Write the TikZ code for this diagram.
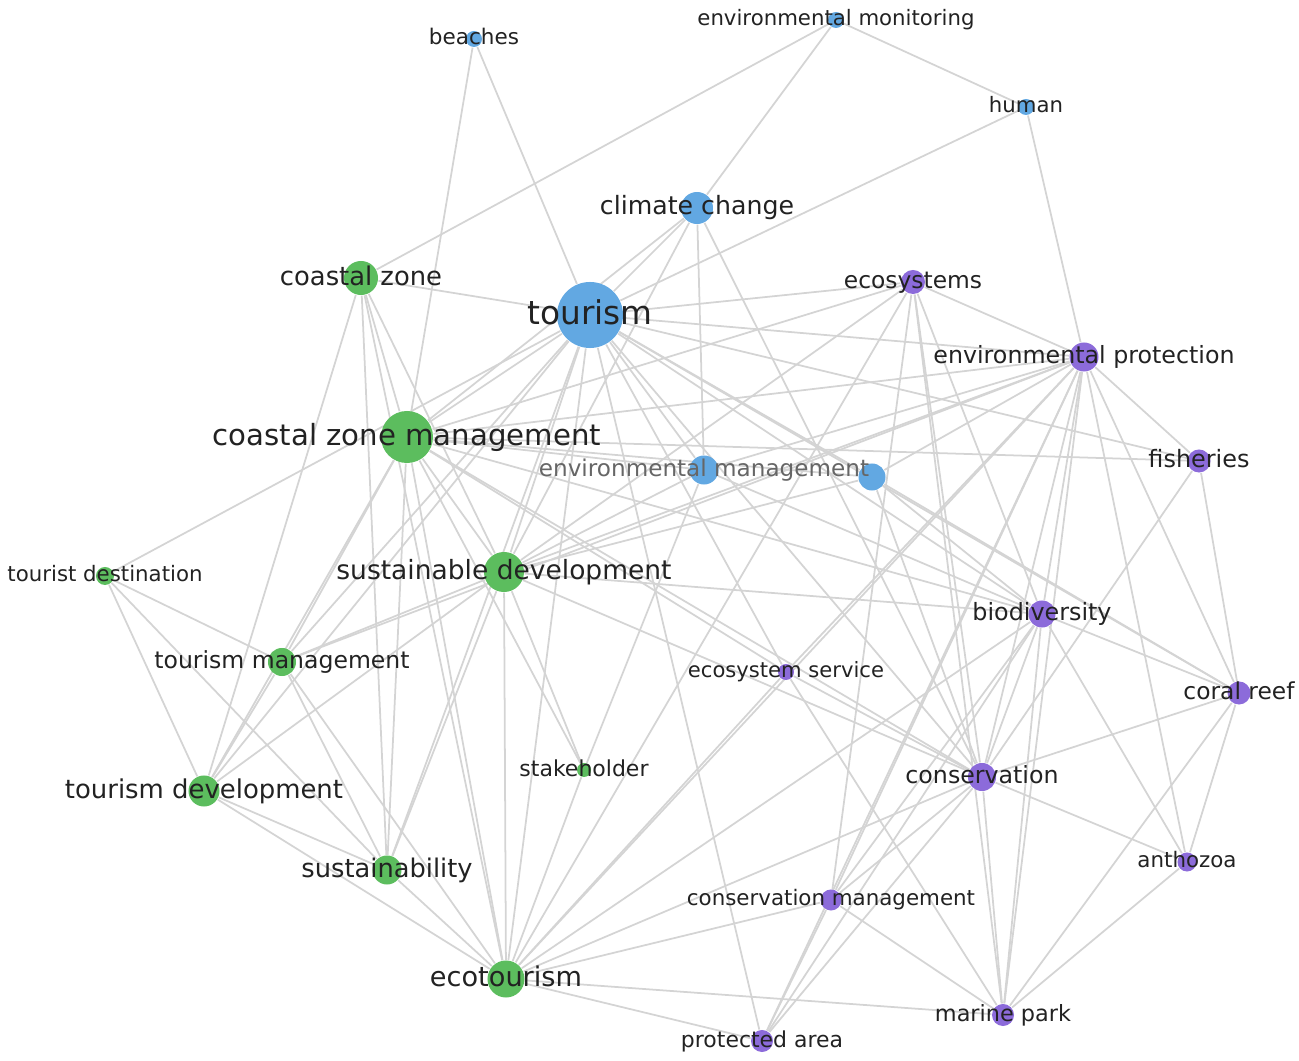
\documentclass[tikz,border=0pt]{standalone}
\usepackage{fontspec}
\setmainfont{DejaVu Sans}
\usepackage{graphicx}
\pgfdeclarelayer{bg}
\pgfsetlayers{bg,main}
\definecolor{nblue}{HTML}{62A8E2}
\definecolor{ngreen}{HTML}{5CBD5E}
\definecolor{npurple}{HTML}{8C6BDA}
\definecolor{edgec}{HTML}{D4D4D4}
\definecolor{txt}{HTML}{222222}
\definecolor{txtgray}{HTML}{666666}
\tikzset{
  dotb/.style={circle, inner sep=0pt, fill=nblue, minimum size=#1},
  dotg/.style={circle, inner sep=0pt, fill=ngreen, minimum size=#1},
  dotp/.style={circle, inner sep=0pt, fill=npurple, minimum size=#1},
  lbl/.style={inner sep=0pt, text=txt, anchor=center},
  link/.style={draw=edgec, line width=0.5pt},
}
\newcommand{\lab}[2]{\resizebox{#1}{!}{\vphantom{lg}#2}}
\begin{document}
\begin{tikzpicture}[x=0.01cm,y=-0.01cm]
\useasboundingbox (0,0) rectangle (1299,1061);
% nodes (dots)
\node[dotb=0.16cm] (bea) at (474,39) {};
\node[dotb=0.16cm] (emon) at (836,20) {};
\node[dotb=0.16cm] (hum) at (1026,107) {};
\node[dotb=0.32cm] (cc) at (697,208) {};
\node[dotg=0.34cm] (cz) at (361,278) {};
\node[dotb=0.66cm] (tou) at (590,315) {};
\node[dotp=0.24cm] (eco) at (913,282) {};
\node[dotp=0.29cm] (ep) at (1084,357) {};
\node[dotg=0.52cm] (czm) at (407,437) {};
\node[dotb=0.29cm] (em) at (704,470) {};
\node[dotb=0.27cm] (env) at (872,477) {};
\node[dotp=0.23cm] (fish) at (1199,461) {};
\node[dotg=0.18cm] (td) at (105,576) {};
\node[dotg=0.40cm] (sd) at (504,572) {};
\node[dotp=0.27cm] (bio) at (1042,614) {};
\node[dotg=0.28cm] (tm) at (282,662) {};
\node[dotp=0.16cm] (es) at (786,672) {};
\node[dotp=0.23cm] (cr) at (1239,693) {};
\node[dotg=0.14cm] (stk) at (584,770) {};
\node[dotp=0.28cm] (con) at (982,777) {};
\node[dotg=0.31cm] (tdev) at (204,791) {};
\node[dotp=0.19cm] (ant) at (1187,862) {};
\node[dotg=0.29cm] (sus) at (387,870) {};
\node[dotp=0.21cm] (cm) at (831,900) {};
\node[dotg=0.37cm] (eto) at (506,979) {};
\node[dotp=0.22cm] (mp) at (1003,1015) {};
\node[dotp=0.22cm] (pa) at (762,1041) {};
% labels
\node[lbl] (bea-t) at (bea) {\lab{0.90cm}{beaches}};
\node[lbl] (emon-t) at (emon) {\lab{2.77cm}{environmental monitoring}};
\node[lbl] (hum-t) at (hum) {\lab{0.74cm}{human}};
\node[lbl] (cc-t) at (cc) {\lab{1.94cm}{climate change}};
\node[lbl] (cz-t) at (cz) {\lab{1.62cm}{coastal zone}};
\node[lbl] (tou-t) at (tou) {\lab{1.25cm}{tourism}};
\node[lbl] (eco-t) at (eco) {\lab{1.38cm}{ecosystems}};
\node[lbl] (ep-t) at (ep) {\lab{3.01cm}{environmental protection}};
\node[lbl] (czm-t) at (czm) {\lab{3.88cm}{coastal zone management}};
\node[lbl, text=txtgray] (em-t) at (em) {\lab{3.30cm}{environmental management}};
\node[lbl] (fish-t) at (fish) {\lab{1.01cm}{fisheries}};
\node[lbl] (td-t) at (td) {\lab{1.95cm}{tourist destination}};
\node[lbl] (sd-t) at (sd) {\lab{3.35cm}{sustainable development}};
\node[lbl] (bio-t) at (bio) {\lab{1.39cm}{biodiversity}};
\node[lbl] (tm-t) at (tm) {\lab{2.55cm}{tourism management}};
\node[lbl] (es-t) at (es) {\lab{1.96cm}{ecosystem service}};
\node[lbl] (cr-t) at (cr) {\lab{1.11cm}{coral reef}};
\node[lbl] (stk-t) at (stk) {\lab{1.29cm}{stakeholder}};
\node[lbl] (con-t) at (con) {\lab{1.53cm}{conservation}};
\node[lbl] (tdev-t) at (tdev) {\lab{2.78cm}{tourism development}};
\node[lbl] (ant-t) at (ant) {\lab{0.99cm}{anthozoa}};
\node[lbl] (sus-t) at (sus) {\lab{1.71cm}{sustainability}};
\node[lbl] (cm-t) at (cm) {\lab{2.88cm}{conservation management}};
\node[lbl] (eto-t) at (eto) {\lab{1.52cm}{ecotourism}};
\node[lbl] (mp-t) at (mp) {\lab{1.36cm}{marine park}};
\node[lbl] (pa-t) at (pa) {\lab{1.62cm}{protected area}};
% links
\begin{pgfonlayer}{bg}
\foreach \a/\b in {bea/tou, bea/czm, emon/cz, emon/cc, emon/hum, hum/tou, hum/ep,
  cc/tou, cc/czm, cc/sd, cc/con, cc/em,
  cz/tou, cz/czm, cz/sd, cz/eto, cz/tdev, cz/sus,
  tou/eco, tou/ep, tou/czm, tou/em, tou/env, tou/fish, tou/sd, tou/bio, tou/tm,
  tou/tdev, tou/es, tou/con, tou/eto, tou/sus, tou/td, tou/pa, tou/cr,
  eco/ep, eco/czm, eco/bio, eco/con, eco/cm, eco/eto, eco/mp, eco/sd,
  ep/czm, ep/sd, ep/em, ep/env, ep/es, ep/eto, ep/fish, ep/bio, ep/cr, ep/con,
  ep/ant, ep/mp, ep/cm, ep/pa, ep/tm,
  czm/em, czm/env, czm/fish, czm/bio, czm/es, czm/con, czm/sd, czm/tm, czm/tdev,
  czm/sus, czm/eto, czm/stk,
  em/sd, em/stk, em/bio, env/bio, env/cr, env/con, fish/con, fish/cr,
  td/tm, td/tdev, td/sus,
  sd/bio, sd/tm, sd/tdev, sd/sus, sd/eto, sd/stk, sd/con, sd/env,
  bio/con, bio/cr, bio/ant, bio/mp, bio/cm, bio/pa,
  tm/tdev, tm/sus, tm/eto, es/con, es/mp, es/eto,
  cr/con, cr/ant, cr/mp, stk/eto,
  con/ant, con/mp, con/cm, con/pa, con/eto,
  tdev/sus, tdev/eto, ant/mp, sus/eto, cm/pa, cm/mp, cm/eto, mp/eto, pa/eto, eto/bio}
  \draw[link] (\a) -- (\b);
\end{pgfonlayer}
\end{tikzpicture}
\end{document}
